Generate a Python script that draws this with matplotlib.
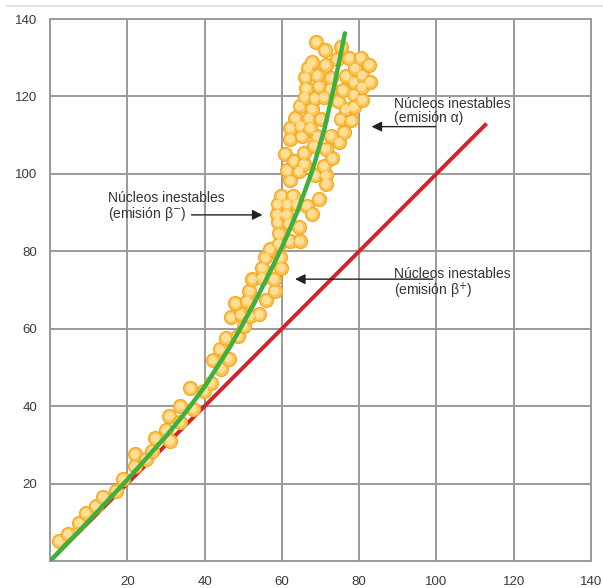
import matplotlib.pyplot as plt
from matplotlib.lines import Line2D

plt.rcParams["font.family"] = ["Liberation Sans", "DejaVu Sans"]

# Línea de estabilidad N = Z
red_x = [0, 113]
red_y = [0, 113]

# Curva de estabilidad (verde)
green_x = [0, 10, 20, 30, 35, 40, 46.7, 52.7, 56, 60, 64, 68, 71, 73.5, 76.3]
green_y = [0, 10.3, 21, 32.2, 38.3, 45, 55.5, 66.3, 72.8, 81.0, 90.2, 101.2, 111.5, 122.5, 136.3]

# Núcleos estables (Z, N)
nuc_z = [
    2.3, 4.6, 7.5, 9.3, 11.8, 13.7, 17.1, 18.8, 21.9, 22.0, 24.8, 26.5, 27.3, 30.0, 31.1,
    30.9, 33.7, 33.7, 36.3, 37.0, 39.9, 41.7,
    44.3, 42.1, 46.2, 43.9, 45.5, 48.6, 50.1, 46.8, 49.3, 51.7, 54.2, 48.0, 51.0, 56.0,
    51.6, 58.1, 52.4, 54.9, 54.9, 55.7, 56.9, 57.9, 59.8, 59.5, 59.2, 62.0, 59.2, 64.6,
    64.4, 58.9, 61.8, 58.8, 61.2, 58.9, 61.4, 63.8, 66.5, 67.8, 59.9, 62.8, 69.6,
    62.2, 61.4, 64.4, 68.7, 71.3, 71.5, 60.9, 63.1, 65.7, 70.9, 73.0, 65.7, 68.3, 71.3,
    74.8, 62.2, 65.1, 69.1, 72.6, 76.0, 62.2, 64.8, 67.4, 63.5, 67.0, 70.0, 75.2, 78.0,
    64.6, 67.8, 76.5, 78.6, 65.9, 68.5, 70.9, 74.6, 78.6, 80.8, 66.3, 69.6, 72.6, 75.8,
    78.6, 80.8, 66.1, 69.1, 72.6, 76.5, 80.8, 82.8, 66.8, 78.9, 67.8, 71.3, 74.3, 77.5,
    80.4, 82.5, 68.9, 71.1, 75.4,
]
nuc_n = [
    5.2, 7.0, 9.9, 12.5, 14.2, 16.6, 18.1, 21.2, 24.6, 27.6, 26.3, 28.5, 31.7, 33.9, 31.1,
    37.4, 40.0, 35.9, 44.6, 39.3, 44.0, 46.0,
    49.7, 51.9, 52.3, 54.7, 57.7, 58.0, 60.7, 62.9, 63.7, 63.3, 63.7, 66.6, 67.2, 67.4,
    69.8, 69.8, 72.8, 73.2, 75.8, 78.4, 80.6, 72.8, 75.8, 78.4, 82.0, 82.7, 84.6, 82.7,
    86.3, 87.5, 87.2, 89.6, 89.6, 92.2, 92.2, 92.2, 91.8, 89.6, 94.4, 94.4, 93.5,
    98.3, 100.9, 100.7, 99.6, 99.6, 97.4, 105.2, 103.4, 102.6, 102.1, 104.1, 105.4, 107.3, 106.5,
    108.2, 109.1, 109.7, 109.7, 109.9, 110.8, 111.9, 112.5, 111.9, 114.5, 114.5, 114.2, 114.2, 113.8,
    117.5, 116.8, 116.8, 117.3, 119.9, 119.6, 119.9, 118.7, 120.5, 119.2, 122.2, 122.7, 122.0, 121.6,
    123.8, 122.5, 125.0, 125.5, 124.8, 125.3, 125.5, 123.8, 127.4, 127.4, 128.9, 128.2, 129.6, 130.0,
    130.0, 128.2, 134.1, 131.9, 132.8,
]

ticks = [20, 40, 60, 80, 100, 120, 140]

fig = plt.figure(figsize=(6.03, 5.88), dpi=100)
ax = fig.add_axes([50 / 603, 1 - 561 / 588, 541 / 603, 542 / 588])

ax.set_xlim(0, 140)
ax.set_ylim(0, 140)
ax.set_xticks(ticks)
ax.set_yticks(ticks)
ax.tick_params(length=0, labelsize=9.5, labelcolor="#3a3a3a")
ax.tick_params(axis="x", pad=11)
ax.tick_params(axis="y", pad=9)
ax.grid(True, color="#9a9a9c", linewidth=1.4)
ax.set_axisbelow(True)
for s in ax.spines.values():
    s.set_color("#9a9a9c")
    s.set_linewidth(1.4)

ax.plot(red_x, red_y, color="#d2232a", linewidth=2.8, zorder=2, solid_capstyle="butt")

# Esferas: relleno naranja con brillo claro en el centro
ax.scatter(nuc_z, nuc_n, s=100, facecolor="#fbc655", edgecolor="#f7a823",
           linewidth=0.9, zorder=3)
ax.scatter(nuc_z, nuc_n, s=38, facecolor="#fde4a6", edgecolor="none",
           alpha=0.85, zorder=3)

ax.plot(green_x, green_y, color="#3db03e", linewidth=3.2, zorder=4,
        solid_capstyle="round", solid_joinstyle="round")

# Anotaciones
txt = dict(fontsize=10, color="#333333", va="center", ha="left", linespacing=1.0)
arrow = dict(arrowstyle="-|>", color="#222222", lw=1.0, mutation_scale=15)

ax.text(89.0, 116.3, "Núcleos inestables\n(emisión α)", **txt)
ax.annotate("", xy=(82.5, 112.2), xytext=(100.5, 112.2), arrowprops=arrow, zorder=5)

ax.text(15.0, 91.5, "Núcleos inestables\n(emisión β$^{-}$)", **txt)
ax.annotate("", xy=(55.7, 89.4), xytext=(35.9, 89.4), arrowprops=arrow, zorder=5)

ax.text(89.0, 71.5, "Núcleos inestables\n(emisión β$^{+}$)", **txt)
ax.annotate("", xy=(62.7, 72.8), xytext=(99.8, 72.8), arrowprops=arrow, zorder=5)

fig.add_artist(Line2D([7 / 603, 1], [1 - 6 / 588] * 2, color="#dcdcdc", linewidth=1.2))

fig.savefig("out.png", dpi=100)
